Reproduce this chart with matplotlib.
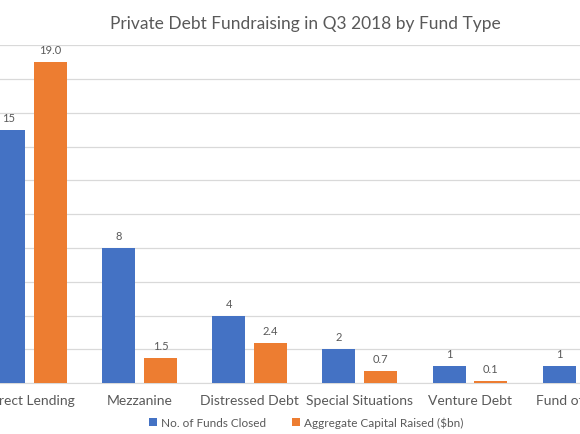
import numpy as np
import matplotlib.pyplot as plt

plt.rcParams['font.family'] = ['Lato', 'DejaVu Sans']

categories = ['Direct Lending', 'Mezzanine', 'Distressed Debt',
              'Special Situations', 'Venture Debt', 'Fund of Funds']
funds_closed = [15, 8, 4, 2, 1, 1]
capital_raised = [19.0, 1.5, 2.4, 0.7, 0.1, 0.3]
series_names = ['No. of Funds Closed', 'Aggregate Capital Raised ($bn)']

blue = '#4472C4'
orange = '#ED7D31'
text_col = '#595959'

fig = plt.figure(figsize=(5.8, 4.35), dpi=100)
ax = fig.add_axes([0, 0.117, 1, 0.777])

x = np.arange(len(categories))
w = 0.3
off = 0.19
b1 = ax.bar(x - off, funds_closed, w, color=blue, label=series_names[0], zorder=3)
b2 = ax.bar(x + off, capital_raised, w, color=orange, label=series_names[1], zorder=3)

for rect, v in zip(b1, funds_closed):
    ax.annotate(f'{v}', (rect.get_x() + rect.get_width() / 2, rect.get_height()),
                xytext=(0, 5), textcoords='offset points', ha='center', va='bottom',
                fontsize=8, color=text_col)
for rect, v in zip(b2, capital_raised):
    ax.annotate(f'{v:.1f}', (rect.get_x() + rect.get_width() / 2, rect.get_height()),
                xytext=(0, 5), textcoords='offset points', ha='center', va='bottom',
                fontsize=8, color=text_col)

ax.set_xlim(-0.27, 4.955)
ax.set_ylim(0, 20)
ax.set_yticks(np.arange(0, 21, 2))
ax.yaxis.grid(True, color='#d9d9d9', linewidth=0.9, zorder=0)
ax.tick_params(axis='y', left=False, labelleft=False)
ax.set_xticks(x)
ax.set_xticklabels(categories, fontsize=10, color=text_col)
ax.tick_params(axis='x', length=0, pad=8)
for s in ['top', 'right', 'left']:
    ax.spines[s].set_visible(False)
ax.spines['bottom'].set_color('#d9d9d9')

fig.text(0.527, 0.945, 'Private Debt Fundraising in Q3 2018 by Fund Type',
         ha='center', va='center', fontsize=12.5, color=text_col)

fig.legend(handles=[b1, b2], labels=series_names, loc='center',
           bbox_to_anchor=(0.528, 0.027), ncol=2, frameon=False, fontsize=8.5,
           handlelength=0.7, handleheight=0.7, handletextpad=0.3,
           columnspacing=2.2, labelcolor=text_col)

fig.savefig('out.png', dpi=100)
